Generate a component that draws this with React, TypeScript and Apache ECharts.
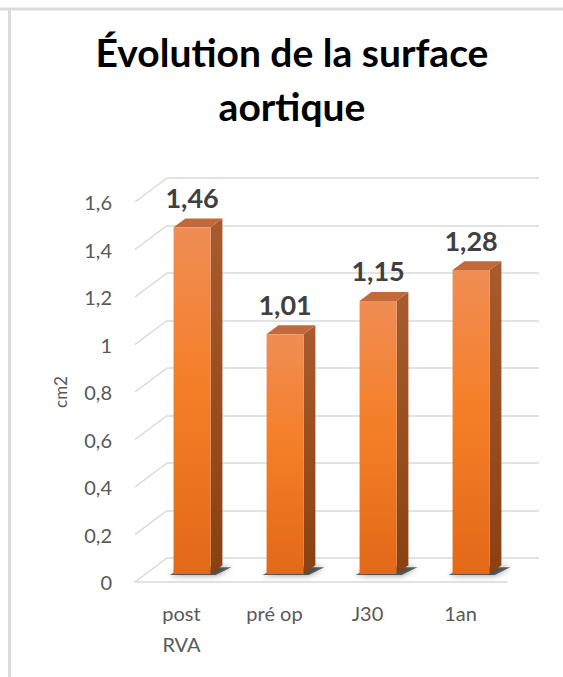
import React, { useEffect, useRef } from 'react';
import * as echarts from 'echarts';

const categories = ['post\nRVA', 'pré op', 'J30', '1an'];
const values = [1.46, 1.01, 1.15, 1.28];
const yTicks = [0, 0.2, 0.4, 0.6, 0.8, 1.0, 1.2, 1.4, 1.6];
const titleText = 'Évolution de la surface\naortique';
const yAxisTitle = 'cm2';

const fmt = (v: number) => String(Math.round(v * 100) / 100).replace('.', ',');

export default function App() {
  const ref = useRef<HTMLDivElement>(null);
  useEffect(() => {
    const chart = echarts.init(ref.current!, null, { renderer: 'svg' });
    const DEPTH_X = 32;
    const DEPTH_Y = -24;
    const FRONT = 0.33;
    const BACK = 0.7;
    const BAR_W = 37;
    const font = 'Lato, "Open Sans", sans-serif';

    chart.setOption({
      animation: false,
      backgroundColor: '#ffffff',
      title: {
        text: titleText,
        left: 292,
        top: 25,
        padding: 0,
        textAlign: 'center',
        textStyle: {
          fontFamily: font,
          fontSize: 39,
          fontWeight: 'bold',
          color: '#000000',
          lineHeight: 54,
        },
      },
      graphic: [
        { type: 'line', shape: { x1: 0, y1: 9, x2: 563, y2: 9 }, style: { stroke: '#dcdcdc', lineWidth: 3 }, silent: true },
        { type: 'line', shape: { x1: 9.5, y1: 9, x2: 9.5, y2: 677 }, style: { stroke: '#dcdcdc', lineWidth: 3 }, silent: true },
      ],
      grid: [
        { left: 135, right: 56, top: 202, bottom: 95 },
        { left: 167, right: 24, top: 178, bottom: 119 },
      ],
      xAxis: [
        {
          type: 'category',
          gridIndex: 0,
          data: categories,
          axisLine: { lineStyle: { color: '#d9d9d9', width: 1.5 } },
          axisTick: { show: false },
          axisLabel: {
            fontFamily: font,
            fontSize: 20,
            color: '#595959',
            margin: 15,
            lineHeight: 31,
          },
        },
        { type: 'category', gridIndex: 1, data: categories, show: false },
      ],
      yAxis: [
        {
          type: 'value',
          gridIndex: 0,
          min: 0,
          max: 1.6,
          interval: 0.2,
          name: yAxisTitle,
          nameLocation: 'middle',
          nameRotate: 90,
          nameGap: 66,
          nameTextStyle: { fontFamily: font, fontSize: 17, color: '#595959' },
          splitLine: { show: false },
          axisLine: { show: false },
          axisTick: { show: false },
          axisLabel: {
            fontFamily: font,
            fontSize: 20,
            color: '#595959',
            margin: 23,
            formatter: (v: number) => fmt(v),
          },
        },
        {
          type: 'value',
          gridIndex: 1,
          min: 0,
          max: 1.6,
          interval: 0.2,
          axisLabel: { show: false },
          axisLine: { show: false },
          axisTick: { show: false },
          splitLine: { lineStyle: { color: '#d9d9d9', width: 1.5 } },
        },
      ],
      series: [
        {
          type: 'custom',
          name: 'diagonals',
          xAxisIndex: 0,
          yAxisIndex: 0,
          silent: true,
          z: 1,
          data: yTicks.map((v) => [0, v]),
          encode: { x: 0, y: 1 },
          renderItem: (params: any, api: any) => {
            const p = api.coord([0, api.value(1)]);
            const x = params.coordSys.x;
            return {
              type: 'line',
              shape: { x1: x, y1: p[1], x2: x + DEPTH_X, y2: p[1] + DEPTH_Y },
              style: { stroke: '#d9d9d9', lineWidth: 1.5 },
            };
          },
        },
        {
          type: 'custom',
          name: 'Surface aortique',
          xAxisIndex: 0,
          yAxisIndex: 0,
          z: 3,
          data: values.map((v, i) => [i, v]),
          encode: { x: 0, y: 1 },
          renderItem: (params: any, api: any) => {
            const i = api.value(0);
            const v = api.value(1);
            const b = api.coord([i, 0]);
            const t = api.coord([i, v]);
            const fx = DEPTH_X * FRONT;
            const fy = DEPTH_Y * FRONT;
            const sx = DEPTH_X * (BACK - FRONT);
            const sy = DEPTH_Y * (BACK - FRONT);
            const x0 = b[0] + fx - BAR_W / 2;
            const x1 = x0 + BAR_W;
            const yb = b[1] + fy;
            const yt = t[1] + fy;
            return {
              type: 'group',
              children: [
                {
                  type: 'polygon',
                  shape: {
                    points: [
                      [x0 - 4, yb + 1],
                      [x1 + 5, yb + 1],
                      [x1 + sx + 9, yb + sy + 2],
                      [x0 + sx, yb + sy + 2],
                    ],
                  },
                  style: {
                    fill: 'rgba(45,45,45,0.75)',
                    shadowBlur: 6,
                    shadowColor: 'rgba(0,0,0,0.6)',
                  },
                },
                {
                  type: 'polygon',
                  shape: {
                    points: [
                      [x1, yt],
                      [x1 + sx, yt + sy],
                      [x1 + sx, yb + sy],
                      [x1, yb],
                    ],
                  },
                  style: {
                    fill: new echarts.graphic.LinearGradient(0, 0, 0, 1, [
                      { offset: 0, color: '#a85b2e' },
                      { offset: 1, color: '#8a4112' },
                    ]),
                  },
                },
                {
                  type: 'polygon',
                  shape: {
                    points: [
                      [x0, yt],
                      [x0 + sx, yt + sy],
                      [x1 + sx, yt + sy],
                      [x1, yt],
                    ],
                  },
                  style: { fill: '#c0693a' },
                },
                {
                  type: 'rect',
                  shape: { x: x0, y: yt, width: BAR_W, height: yb - yt },
                  style: {
                    fill: new echarts.graphic.LinearGradient(0, 0, 0, 1, [
                      { offset: 0, color: '#f08d55' },
                      { offset: 0.45, color: '#f57f28' },
                      { offset: 1, color: '#e36818' },
                    ]),
                  },
                },
                {
                  type: 'text',
                  x: (x0 + x1) / 2,
                  y: yt - 30,
                  style: {
                    text: fmt(v),
                    align: 'center',
                    verticalAlign: 'middle',
                    fontFamily: font,
                    fontSize: 27,
                    fontWeight: 'bold',
                    fill: '#404040',
                  },
                },
              ],
            };
          },
        },
      ],
    });
    return () => chart.dispose();
  }, []);
  return (
    <div
      ref={ref}
      style={{ position: 'fixed', left: 0, top: 0, width: 563, height: 677 }}
    />
  );
}
